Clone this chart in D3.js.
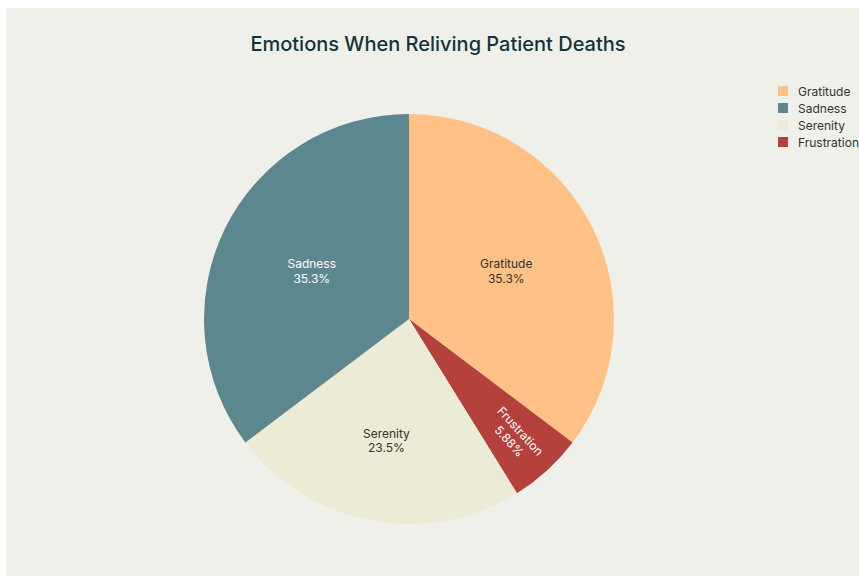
<!DOCTYPE html>
<html>
<head>
<meta charset="utf-8">
<script src="https://cdn.jsdelivr.net/npm/d3@7"></script>
<style>
  html, body { margin: 0; padding: 0; background: #ffffff; }
  svg { display: block; font-family: "Inter", "Liberation Sans", sans-serif; }
</style>
</head>
<body>
<div id="chart"></div>
<script>
// data
var categories = ['Gratitude', 'Frustration', 'Serenity', 'Sadness'];
var values = [6, 1, 4, 6];
var percentLabels = ['35.3%', '5.88%', '23.5%', '35.3%'];
var legendOrder = ['Gratitude', 'Sadness', 'Serenity', 'Frustration'];

var colors = {
    Gratitude: '#FFC185',
    Sadness: '#5D878F',
    Serenity: '#ECEBD5',
    Frustration: '#B4413C'
};
var textColors = { Gratitude: '#333333', Sadness: '#ffffff', Serenity: '#333333', Frustration: '#ffffff' };
// how far out the inside label sits (fraction of radius)
var labelRadius = { Gratitude: 0.53, Sadness: 0.53, Serenity: 0.6, Frustration: 0.77 };

var width = 859, height = 576;
var cx = 409, cy = 319, radius = 205;

var svg = d3.select('#chart').append('svg')
    .attr('width', width)
    .attr('height', height);

// fondo
svg.append('rect')
    .attr('x', 6).attr('y', 8)
    .attr('width', width - 6).attr('height', height - 8)
    .attr('fill', '#F0F0EA');

svg.append('text')
    .attr('x', 438)
    .attr('y', 51)
    .attr('text-anchor', 'middle')
    .attr('font-size', 20)
    .attr('font-weight', 500)
    .attr('fill', '#13343B')
    .text('Emotions When Reliving Patient Deaths');

var data = categories.map(function (c, i) {
    return { name: c, value: values[i], pct: percentLabels[i] };
});

var pie = d3.pie().sort(null).value(function (d) { return d.value; });
var arc = d3.arc().innerRadius(0).outerRadius(radius);

var g = svg.append('g').attr('transform', 'translate(' + cx + ',' + cy + ')');

var slices = g.selectAll('g.slice').data(pie(data)).enter().append('g').attr('class', 'slice');

slices.append('path')
    .attr('d', arc)
    .attr('fill', function (d) { return colors[d.data.name]; });

slices.each(function (d) {
    var mid = (d.startAngle + d.endAngle) / 2;
    var r = radius * labelRadius[d.data.name];
    var x = Math.sin(mid) * r, y = -Math.cos(mid) * r;
    var rot = 0;
    if (d.data.name === 'Frustration') {
        // radial text for the small slice
        rot = mid * 180 / Math.PI - 90;
    }
    var t = d3.select(this).append('text')
        .attr('transform', 'translate(' + x + ',' + y + ') rotate(' + rot + ')')
        .attr('text-anchor', 'middle')
        .attr('font-size', 12)
        .attr('fill', textColors[d.data.name]);
    t.append('tspan').attr('x', 0).attr('dy', '-0.2em').text(d.data.name);
    t.append('tspan').attr('x', 0).attr('dy', '1.25em').text(d.data.pct);
});

// leyenda
var legend = svg.append('g').attr('transform', 'translate(778,86)');
var items = legend.selectAll('g').data(legendOrder).enter().append('g')
    .attr('transform', function (d, i) { return 'translate(0,' + (i * 17) + ')'; });
items.append('rect')
    .attr('x', 0).attr('y', 0)
    .attr('width', 10).attr('height', 10)
    .attr('fill', function (d) { return colors[d]; });
items.append('text')
    .attr('x', 20).attr('y', 9.5)
    .attr('font-size', 12)
    .attr('fill', '#333333')
    .text(function (d) { return d; });
</script>
</body>
</html>
